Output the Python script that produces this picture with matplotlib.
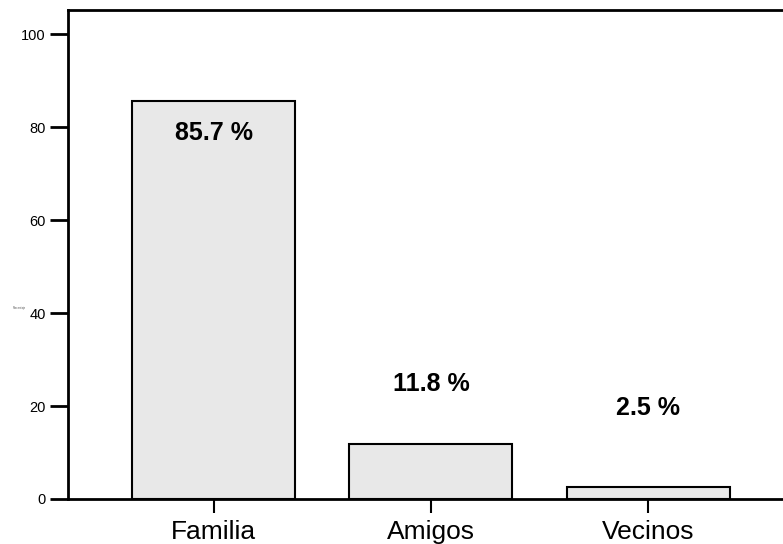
import matplotlib.pyplot as plt

categories = ['Familia', 'Amigos', 'Vecinos']
percentages = [85.7, 11.8, 2.5]
value_labels = ['85.7 %', '11.8 %', '2.5 %']
yticks = [0, 20, 40, 60, 80, 100]

plt.rcParams['font.family'] = ['Liberation Sans', 'DejaVu Sans']

fig = plt.figure(figsize=(7.83, 5.44), dpi=100)
ax = fig.add_axes([68 / 783, 45 / 544, 1.0, 489 / 544])

x = list(range(len(categories)))
ax.bar(x, percentages, width=0.75, color='#e8e8e8', edgecolor='black', linewidth=1.5)

# label heights as placed in the original chart
label_y = [78.7, 24.8, 19.5]
for xi, ly, txt in zip(x, label_y, value_labels):
    ax.text(xi, ly, txt, ha='center', va='center', fontsize=18, fontweight='bold')

ax.set_xlim(-0.67, 2.62 + (1 - 715 / 783) * 3.29 / (715 / 783))
ax.set_ylim(0, 105.2)
ax.set_xticks(x)
ax.set_xticklabels(categories, fontsize=19)
ax.set_yticks(yticks)
ax.set_yticklabels([str(t) for t in yticks], fontsize=10.5)
ax.tick_params(axis='y', length=13, width=2, pad=3)
ax.tick_params(axis='x', length=10, width=1.5, pad=5)
for s in ax.spines.values():
    s.set_linewidth(2)

fig.text(19 / 783, 1 - 308 / 544, 'Porcentaje', fontsize=2, color='#555555',
         ha='center', va='center')

fig.savefig('out.png', dpi=100)
